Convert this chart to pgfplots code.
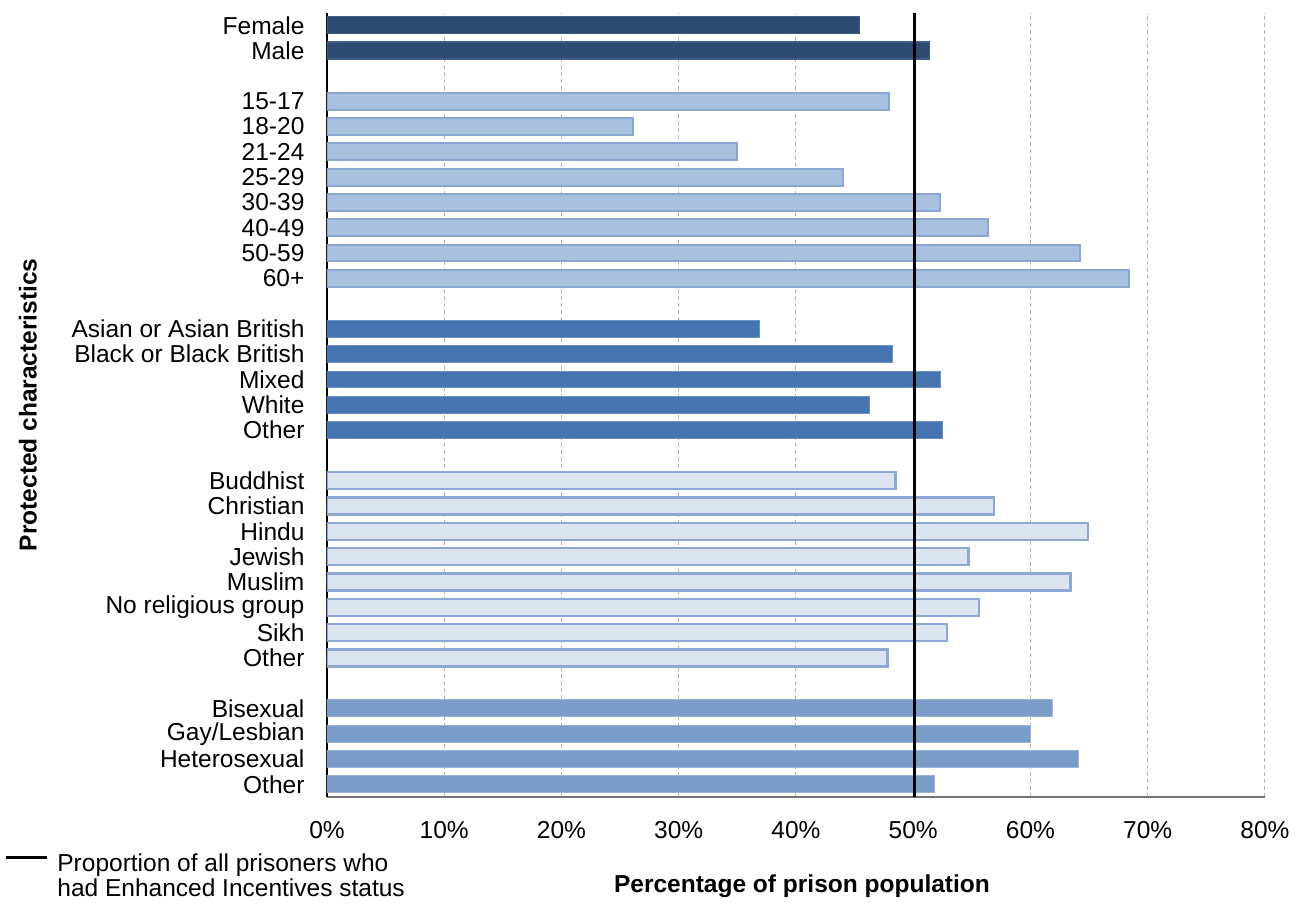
\documentclass[border=0pt]{standalone}
\usepackage{pgfplots}
\pgfplotsset{compat=1.18}
\usepackage{fontspec}
\setmainfont{Liberation Sans}
\definecolor{cGender}{HTML}{2E4A70}
\definecolor{cGenderB}{HTML}{3F5C85}
\definecolor{cAge}{HTML}{A9BFDE}
\definecolor{cAgeB}{HTML}{8AA7D1}
\definecolor{cEth}{HTML}{4674B0}
\definecolor{cEthB}{HTML}{6C90C2}
\definecolor{cRel}{HTML}{DCE4F0}
\definecolor{cRelB}{HTML}{8DA9D3}
\definecolor{cSex}{HTML}{7A9CC9}
\definecolor{cSexB}{HTML}{9AB3D6}
\begin{document}
\fontsize{12.3}{13.5}\selectfont
\begin{tikzpicture}
\path[use as bounding box] (-163.5bp,-53bp) rectangle (488bp,398.5bp);
\begin{axis}[
  at={(0,0)}, anchor=south west,
  scale only axis, width=469bp, height=392.2bp,
  xmin=0, xmax=80, ymin=-0.5, ymax=30.5,
  axis x line*=bottom, axis y line*=left,
  x axis line style={draw=black!55, line width=1.2bp, -},
  y axis line style={draw=black, line width=0.6bp, -},
  xtick={0,10,...,80},
  xticklabels={0\%,10\%,20\%,30\%,40\%,50\%,60\%,70\%,80\%},
  ytick={0,1,2,3,5,6,7,8,9,10,11,12,14,15,16,17,18,20,21,22,23,24,25,26,27,29,30},
  yticklabels={Other,Heterosexual,Gay/Lesbian,Bisexual,Other\ ,Sikh,No religious group,Muslim,Jewish,Hindu,Christian,Buddhist,Other,White,Mixed\ ,Black or Black British,Asian or Asian British,60+,50-59,40-49,30-39,25-29,21-24,18-20,15-17,Male,Female},
  major tick length=0pt,
  xticklabel style={yshift=-8bp, font=\fontsize{12.3}{13.5}\selectfont},
  yticklabel style={xshift=-7bp, font=\fontsize{12.3}{13.5}\selectfont},
  xmajorgrids,
  grid style={draw=black!30, line width=0.5bp, dash pattern=on 2bp off 1.5bp},
  xlabel={\bfseries Percentage of prison population},
  xlabel style={at={(axis description cs:0.5064,-0.1135)}, anchor=center, font=\fontsize{12.3}{13.5}\selectfont},
  ylabel={\bfseries Protected characteristics},
  ylabel style={at={(axis description cs:-0.3188,0.5)}, anchor=center, font=\fontsize{12.3}{13.5}\selectfont},
  legend style={at={(axis description cs:0,0)}, anchor=north west, xshift=-161.5bp, yshift=-26bp,
    draw=none, fill=none, inner sep=0pt, font=\fontsize{12.3}{12.5}\selectfont,
    /tikz/every odd column/.append style={column sep=2.5bp}},
  legend cell align=left,
  legend image code/.code={\draw[black, line width=1.5bp] (0bp,6.5bp) -- (20.5bp,6.5bp);},
  mybar/.style={xbar, bar width=0.67, bar shift=0pt, forget plot},
]
\addplot[mybar, fill=cGender, draw=cGenderB, line width=0.6bp] coordinates {(45.4,30) (51.4,29)};
\addplot[mybar, fill=cAge, draw=cAgeB, line width=1bp] coordinates {(47.9,27) (26.1,26) (35.0,25) (44.0,24) (52.3,23) (56.4,22) (64.2,21) (68.4,20)};
\addplot[mybar, fill=cEth, draw=cEthB, line width=0.5bp] coordinates {(36.9,18) (48.2,17) (52.3,16) (46.3,15) (52.5,14)};
\addplot[mybar, fill=cRel, draw=cRelB, line width=1.2bp] coordinates {(48.5,12) (56.9,11) (64.9,10) (54.7,9) (63.4,8) (55.6,7) (52.9,6) (47.8,5)};
\addplot[mybar, fill=cSex, draw=cSexB, line width=0.5bp] coordinates {(61.9,3) (60.0,2) (64.1,1) (51.8,0)};
\addplot[black, line width=1.5bp] coordinates {(50.1,-0.5) (50.1,30.5)};
\addlegendentry{\begin{tabular}{@{}l@{}}Proportion of all prisoners who\\had Enhanced Incentives status\end{tabular}}
\end{axis}
\end{tikzpicture}
\end{document}
